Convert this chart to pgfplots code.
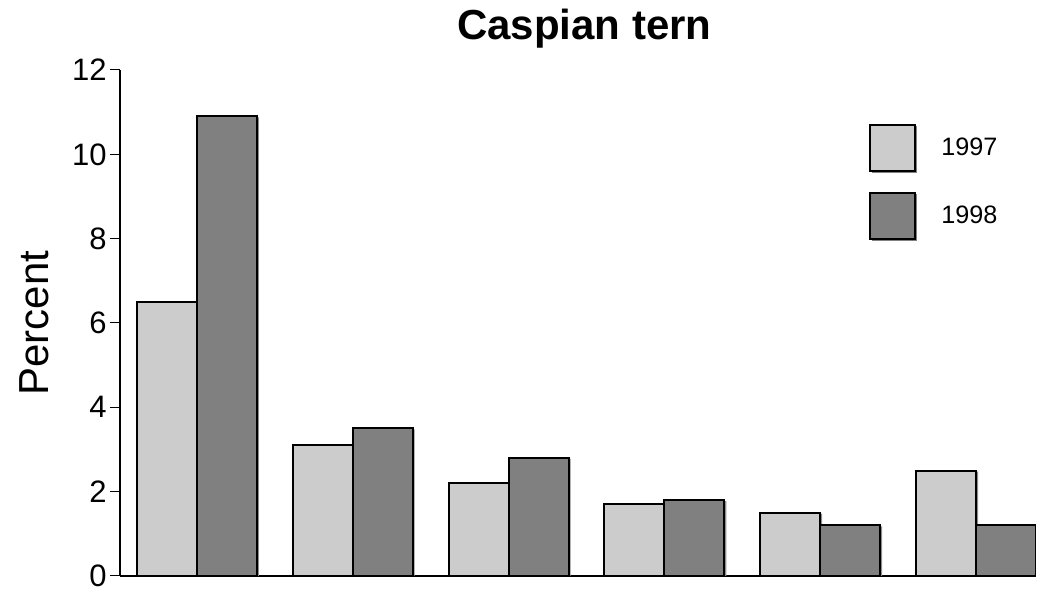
\documentclass[border=0pt]{standalone}
\usepackage{pgfplots}
\pgfplotsset{compat=1.18}
\usepackage{fontspec}
\setmainfont{Liberation Sans}
\usetikzlibrary{shadows}

\definecolor{lightbar}{HTML}{CCCCCC}
\definecolor{darkbar}{HTML}{808080}

\begin{document}
\begin{tikzpicture}
\useasboundingbox (-60pt,-7pt) rectangle (463pt,288pt);
\begin{axis}[
    scale only axis, width=458pt, height=253pt,
    xmin=-0.494, xmax=5.385, ymin=0, ymax=12,
    axis x line*=bottom, axis y line*=left,
    axis line style={line width=1pt},
    xtick=\empty,
    ytick={0,2,...,12},
    tick align=outside, major tick length=5pt,
    y tick style={line width=0.5pt, black},
    yticklabel style={font=\fontsize{15.5}{17}\selectfont, inner sep=0pt, xshift=-1.5pt},
    /pgf/number format/assume math mode=true,
    title={Caspian tern},
    title style={font=\fontsize{21}{24}\bfseries\selectfont, at={(0.507,1)}, anchor=base, yshift=9pt},
    ylabel={Percent},
    ylabel style={font=\fontsize{21}{24}\selectfont, at={(axis description cs:-0.0786,0.5)}, anchor=base},
    ybar, bar width=0.385,
    every axis plot/.append style={draw=black, line width=1pt,
        general shadow={shadow xshift=1pt, shadow yshift=-0.5pt, fill=darkbar!90, draw=none}},
    legend image code/.code={\draw[#1, general shadow={shadow xshift=1pt, shadow yshift=-1pt, fill=darkbar, draw=none}] (0pt,-11.5pt) rectangle (22.5pt,11.5pt);},
    legend style={draw=none, fill=none, at={(0.811,0.901)}, anchor=north west,
        font=\fontsize{12.6}{14}\selectfont, row sep=10pt,
        nodes={inner sep=0pt},
        /tikz/every odd column/.append style={column sep=12.5pt}},
    legend cell align=left,
]
\addplot[fill=lightbar, bar shift=-0.1923] coordinates {
    (0,6.5) (1,3.1) (2,2.2) (3,1.7) (4,1.5) (5,2.5)
};
\addlegendentry{1997}
\addplot[fill=darkbar, bar shift=0.1923] coordinates {
    (0,10.9) (1,3.5) (2,2.8) (3,1.8) (4,1.2) (5,1.2)
};
\addlegendentry{1998}
\end{axis}
\end{tikzpicture}
\end{document}
